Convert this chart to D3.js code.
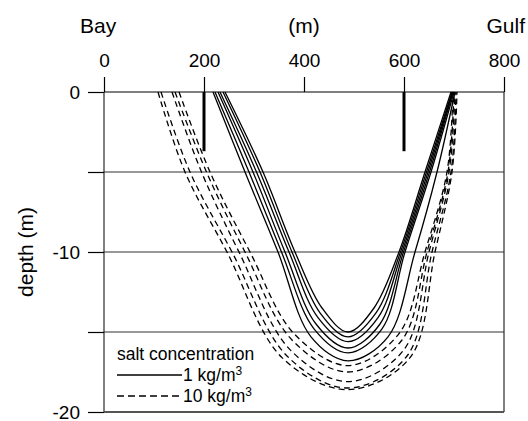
<!DOCTYPE html>
<html>
<head>
<meta charset="utf-8">
<script src="https://cdn.jsdelivr.net/npm/d3@7"></script>
<style>
  body { margin: 0; background: #fff; }
  text { font-family: "Liberation Sans", Arial, sans-serif; fill: #000; }
</style>
</head>
<body>
<svg id="chart" width="528" height="421"></svg>
<script>
// distance ticks (m) and depth ticks (m)
let xTicks = [0, 200, 400, 600, 800];
let yTicks = [0, -5, -10, -15, -20];
let yLabels = [0, -10, -20];
let gridDepths = [-5, -10, -15];

// markers (thick bars) at the surface: [distance, bottom depth]
let markers = [[200, -3.7], [600, -3.7]];

// salt 1 kg/m3 contours, [distance, depth]
let solidCurves = [
  [[242,0],[318,-5],[382,-10],[436,-13.5],[488,-15.0],[540,-13.5],[590,-10],[642,-5],[694,0]],
  [[238,0],[312,-5],[376,-10],[432,-13.8],[488,-15.3],[544,-13.8],[593,-10],[645,-5],[696,0]],
  [[232,0],[305,-5],[370,-10],[428,-14.1],[488,-15.6],[548,-14.1],[596,-10],[648,-5],[697,0]],
  [[228,0],[298,-5],[362,-10],[424,-14.5],[488,-16.0],[552,-14.5],[599,-10],[651,-5],[698,0]],
  [[222,0],[290,-5],[355,-10],[420,-14.8],[488,-16.3],[556,-14.8],[602,-10],[654,-5],[700,0]],
  [[218,0],[282,-5],[348,-10],[414,-15.3],[488,-16.8],[568,-15.3],[622,-10],[666,-5],[702,0]]
];

// salt 10 kg/m3 contours
let dashedCurves = [
  [[150,0],[212,-5],[292,-10],[380,-15.1],[488,-17.1],[590,-15.1],[642,-10],[686,-5],[698,0]],
  [[142,0],[205,-5],[282,-10],[376,-15.5],[488,-17.5],[596,-15.5],[646,-10],[688,-5],[700,0]],
  [[136,0],[195,-5],[270,-10],[372,-16.1],[488,-18.1],[600,-16.1],[650,-10],[690,-5],[702,0]],
  [[114,0],[172,-5],[256,-10],[366,-16.5],[488,-18.5],[606,-16.5],[656,-10],[694,-5],[704,0]],
  [[108,0],[162,-5],[246,-10],[356,-16.6],[488,-18.6],[612,-16.6],[662,-10],[696,-5],[706,0]]
];

let svg = d3.select("#chart");

let x = d3.scaleLinear().domain([0, 800]).range([104, 504]);
let y = d3.scaleLinear().domain([-20, 0]).range([412, 92]);

// frame
svg.append("line")
  .attr("x1", x(0)).attr("x2", x(0)).attr("y1", y(0)).attr("y2", y(-20))
  .attr("stroke", "#555").attr("stroke-width", 1.5);
svg.append("line")
  .attr("x1", x(800)).attr("x2", x(800)).attr("y1", y(0)).attr("y2", y(-20))
  .attr("stroke", "#555").attr("stroke-width", 1.5);
svg.append("line")
  .attr("x1", x(0)).attr("x2", x(800)).attr("y1", y(-20)).attr("y2", y(-20))
  .attr("stroke", "#555").attr("stroke-width", 2);
svg.append("line")
  .attr("x1", x(0)).attr("x2", x(800)).attr("y1", y(0)).attr("y2", y(0))
  .attr("stroke", "#000").attr("stroke-width", 1.2);

// horizontal grid lines
svg.append("g")
  .selectAll("line")
  .data(gridDepths)
  .enter()
  .append("line")
  .attr("x1", x(0)).attr("x2", x(800))
  .attr("y1", d => y(d)).attr("y2", d => y(d))
  .attr("stroke", "#333").attr("stroke-width", 1.2);

// top axis
let xAxis = d3.axisTop(x).tickValues(xTicks).tickSize(15).tickPadding(10).tickFormat(d => String(d));
let gx = svg.append("g").attr("transform", "translate(0," + y(0) + ")").call(xAxis);
gx.select(".domain").remove();
gx.selectAll("line").attr("stroke", "#000").attr("stroke-width", 1.2);
gx.selectAll("text").style("font-size", "19px").attr("font-family", null);

// left axis
let yAxis = d3.axisLeft(y).tickValues(yTicks).tickSize(16).tickPadding(8)
  .tickFormat(d => yLabels.includes(d) ? String(d) : "");
let gy = svg.append("g").attr("transform", "translate(" + x(0) + ",0)").call(yAxis);
gy.select(".domain").remove();
gy.selectAll("line").attr("stroke", "#000").attr("stroke-width", 1.2);
gy.selectAll("text").style("font-size", "19px").attr("font-family", null);

// titles
svg.append("text").attr("x", 80).attr("y", 33).style("font-size", "21px").text("Bay");
svg.append("text").attr("x", x(400)).attr("y", 33).attr("text-anchor", "middle").style("font-size", "21px").text("(m)");
svg.append("text").attr("x", 525).attr("y", 33).attr("text-anchor", "end").style("font-size", "21px").text("Gulf");
svg.append("text")
  .attr("transform", "translate(33," + y(-10) + ") rotate(-90)")
  .attr("text-anchor", "middle")
  .style("font-size", "21px")
  .text("depth (m)");

// marker bars
svg.append("g")
  .selectAll("line")
  .data(markers)
  .enter()
  .append("line")
  .attr("x1", d => x(d[0])).attr("x2", d => x(d[0]))
  .attr("y1", y(0)).attr("y2", d => y(d[1]))
  .attr("stroke", "#000").attr("stroke-width", 3);

// contour curves
let line = d3.line()
  .x(d => x(d[0]))
  .y(d => y(d[1]))
  .curve(d3.curveCatmullRom.alpha(0.5));

svg.append("g")
  .selectAll("path")
  .data(solidCurves)
  .enter()
  .append("path")
  .attr("d", line)
  .attr("fill", "none")
  .attr("stroke", "#000")
  .attr("stroke-width", 1.3);

svg.append("g")
  .selectAll("path")
  .data(dashedCurves)
  .enter()
  .append("path")
  .attr("d", line)
  .attr("fill", "none")
  .attr("stroke", "#000")
  .attr("stroke-width", 1.3)
  .attr("stroke-dasharray", "6,4");

// legend
let legend = svg.append("g").attr("transform", "translate(117,360)");
legend.append("text").attr("x", 0).attr("y", 0).style("font-size", "17.5px").text("salt concentration");
let legendItems = [
  { label: "1 kg/m", dash: null },
  { label: "10 kg/m", dash: "7,4" }
];
legendItems.forEach(function (d, i) {
  let yy = 15 + i * 21;
  legend.append("line")
    .attr("x1", 0).attr("x2", 65).attr("y1", yy).attr("y2", yy)
    .attr("stroke", "#000").attr("stroke-width", 1.5)
    .attr("stroke-dasharray", d.dash);
  let t = legend.append("text").attr("x", 66).attr("y", yy + 6).style("font-size", "17.5px").text(d.label);
  t.append("tspan").attr("dy", -6).style("font-size", "12px").text("3");
});
</script>
</body>
</html>
